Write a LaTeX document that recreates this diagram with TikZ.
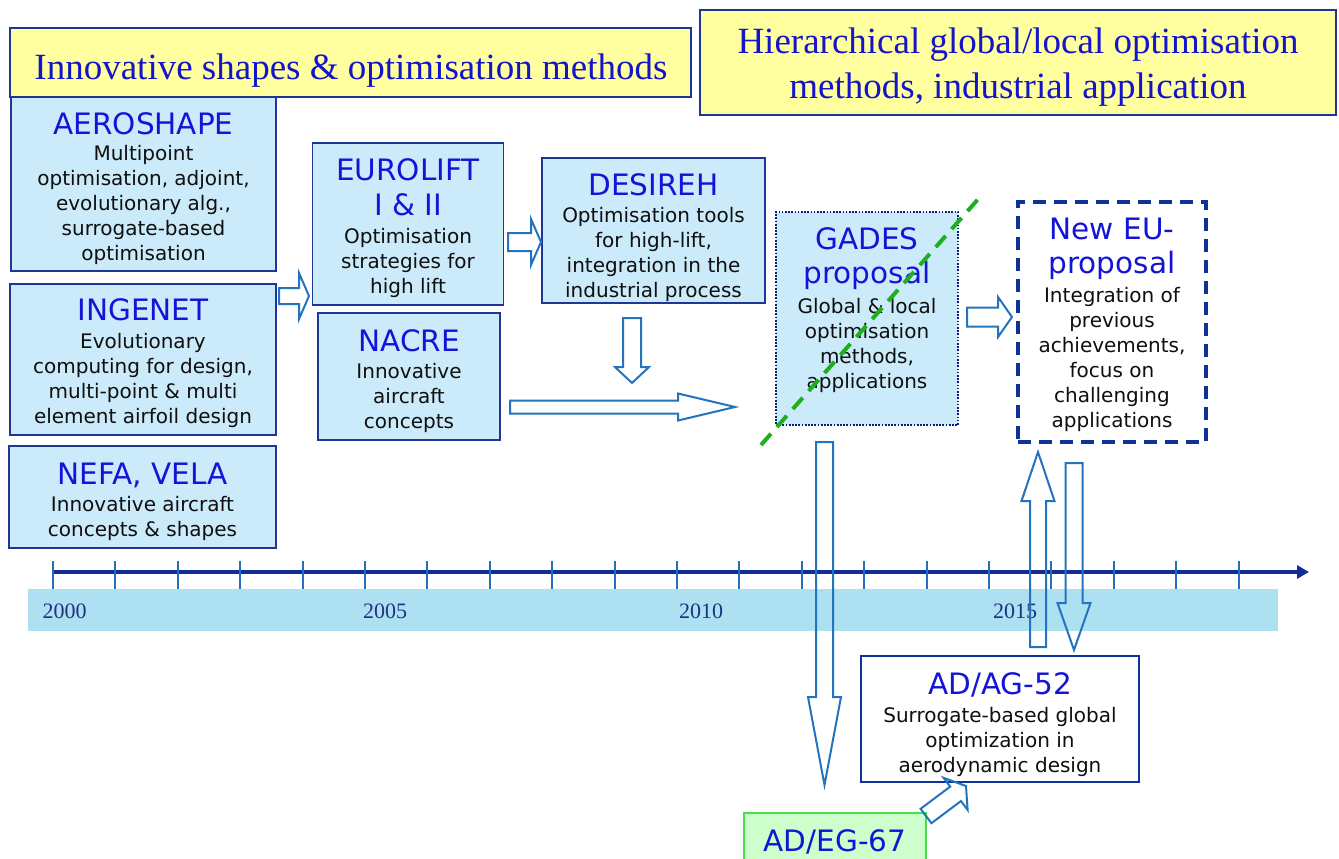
\documentclass[tikz,border=0pt]{standalone}
\usepackage{fontspec}
\setmainfont{DejaVu Sans}
\newfontfamily\serifT{Liberation Serif}
\usetikzlibrary{calc,arrows.meta}
\definecolor{boxfill}{RGB}{204,235,250}
\definecolor{boxline}{RGB}{30,55,150}
\definecolor{titlefill}{RGB}{255,255,160}
\definecolor{titletext}{RGB}{20,20,200}
\definecolor{headblue}{RGB}{20,20,215}
\definecolor{bodytext}{RGB}{15,15,15}
\definecolor{arrowblue}{RGB}{35,115,190}
\definecolor{axisblue}{RGB}{20,45,150}
\definecolor{tickblue}{RGB}{35,110,190}
\definecolor{bandcol}{RGB}{173,224,241}
\definecolor{yeartext}{RGB}{30,50,130}
\definecolor{dashgreen}{RGB}{30,175,30}
\definecolor{egfill}{RGB}{204,255,204}
\definecolor{egline}{RGB}{70,225,70}
\definecolor{euline}{RGB}{15,50,150}
\definecolor{dotline}{RGB}{10,30,120}
\newcommand\bodyf{\fontsize{20}{25}\selectfont}
\newcommand\hdf{\fontsize{29.5}{34}\selectfont\color{headblue}}
\newcommand\blockarr[5]{%
  \path let \p1=(#1), \p2=(#2) in \pgfextra{%
    \pgfmathsetmacro\baangA{atan2(\y2-\y1,\x2-\x1)}%
    \pgfmathsetmacro\balenA{veclen(\x2-\x1,\y2-\y1)}%
    \pgfmathsetmacro\babaseA{\balenA-#5}%
    \xdef\baang{\baangA}\xdef\balen{\balenA}\xdef\babase{\babaseA}%
    \xdef\bax{\x1}\xdef\bay{\y1}};
  \begin{scope}[shift={(\bax,\bay)},rotate=\baang]
    \draw[harrow] (0pt,-#3pt) -- (\babase pt,-#3pt) -- (\babase pt,-#4pt) -- (\balen pt,0pt) -- (\babase pt,#4pt) -- (\babase pt,#3pt) -- (0pt,#3pt) -- cycle;
  \end{scope}}
\tikzset{
  harrow/.style={draw=arrowblue, line width=2pt, line join=miter},
  pbox/.style={draw=boxline, fill=boxfill, line width=1.8pt, inner sep=0pt},
  ptxt/.style={align=center, inner sep=0pt, font=\bodyf, text=bodytext},
  titlebox/.style={draw=boxline, fill=titlefill, line width=2pt, inner sep=0pt},
  titletxt/.style={align=center, inner sep=0pt, text=titletext, font=\serifT\fontsize{37}{45}\selectfont},
  yearlbl/.style={inner sep=0pt, text=yeartext, font=\serifT\fontsize{22}{22}\selectfont},
  axisline/.style={draw=axisblue, line width=3.8pt, -{Triangle[length=12pt,width=13pt]}},
  tickline/.style={draw=tickblue, line width=2pt},
  greendash/.style={draw=dashgreen, line width=4pt, dash pattern=on 15pt off 9pt},
}
\begin{document}
\begin{tikzpicture}[x=1pt,y=-1pt]
\useasboundingbox[fill=white] (0,0) rectangle (1339,859);
% timeline band
\fill[bandcol] (28,589) rectangle (1278,631);
\coordinate (tlstart) at (52,572);
\coordinate (tlend) at (1309,572);
\draw[axisline] (tlstart) -- (tlend);
\foreach \i in {0,...,19} \draw[tickline] ({53+62.4*\i},561) -- ({53+62.4*\i},589);
\node[yearlbl] (y2000) at (64.5,611) {2000};
\node[yearlbl] (y2005) at (385,611) {2005};
\node[yearlbl] (y2010) at (701,611) {2010};
\node[yearlbl] (y2015) at (1015,611) {2015};
% titles
\node[titlebox, minimum width=681pt, minimum height=69pt] (t1) at (350.5,62.5) {};
\node[titletxt, anchor=north] (t1txt) at (351,54) {Innovative shapes \& optimisation methods};
\node[titlebox, minimum width=636pt, minimum height=105pt] (t2) at (1018,62.5) {};
\node[titletxt, anchor=north] (t2txt) at (1018,27.5) {Hierarchical global/local optimisation\\methods, industrial application};
% boxes
\node[pbox, minimum width=265pt, minimum height=174pt] (aero) at (143.5,184) {};
\node[ptxt, anchor=north] (aerot) at (143.5,112) {{\hdf AEROSHAPE}\\[1pt]Multipoint\\optimisation, adjoint,\\evolutionary alg.,\\surrogate-based\\optimisation};
\node[pbox, minimum width=266pt, minimum height=151pt] (ingenet) at (143,359.5) {};
\node[ptxt, anchor=north] (ingenett) at (143,298) {{\hdf INGENET}\\[3pt]Evolutionary\\computing for design,\\multi-point \& multi\\element airfoil design};
\node[pbox, minimum width=267pt, minimum height=102pt] (nefa) at (142.5,497) {};
\node[ptxt, anchor=north] (nefat) at (142.5,463) {{\hdf NEFA, VELA}\\[2pt]Innovative aircraft\\concepts \& shapes};
\node[pbox, minimum width=191pt, minimum height=162pt] (eurolift) at (408,224) {};
\node[ptxt, anchor=north] (eurolifts) at (408,158) {{\hdf EUROLIFT}\\[10pt]{\hdf I \& II}\\[3pt]Optimisation\\strategies for\\high lift};
\node[pbox, minimum width=182pt, minimum height=127pt] (nacre) at (409,376.5) {};
\node[ptxt, anchor=north] (nacret) at (409,329) {{\hdf NACRE}\\[2pt]Innovative\\aircraft\\concepts};
\node[pbox, minimum width=223pt, minimum height=145pt] (desireh) at (653.5,230.5) {};
\node[ptxt, anchor=north] (desireht) at (653.5,173) {{\hdf DESIREH}\\[2pt]Optimisation tools\\for high-lift,\\integration in the\\industrial process};
\node[pbox, draw=dotline, line width=2.2pt, dash pattern=on 1.7pt off 1.5pt, minimum width=182pt, minimum height=213pt] (gades) at (867,318.5) {};
\node[ptxt, anchor=north] (gadest) at (867,227) {{\hdf GADES}\\[9pt]{\hdf proposal}\\[5pt]Global \& local\\optimisation\\methods,\\applications};
\node[pbox, fill=white, draw=euline, line width=3.5pt, dash pattern=on 13pt off 8pt, minimum width=188pt, minimum height=240pt] (neweu) at (1112,322) {};
\node[ptxt, anchor=north] (neweut) at (1112,218) {{\hdf New EU-}\\[9pt]{\hdf proposal}\\[4pt]Integration of\\previous\\achievements,\\focus on\\challenging\\applications};
\node[pbox, fill=white, draw=euline, line width=2pt, minimum width=278pt, minimum height=126pt] (adag) at (1000,719) {};
\node[ptxt, anchor=north] (adagt) at (1000,672) {{\hdf AD/AG-52}\\[3pt]Surrogate-based global\\optimization in\\aerodynamic design};
\node[pbox, fill=egfill, draw=egline, line width=2pt, minimum width=182pt, minimum height=54pt] (adeg) at (835,840) {};
\node[ptxt, anchor=north] (adegt) at (835,829) {{\hdf AD/EG-67}};
% arrow end points
\coordinate (a1s) at (279,296); \coordinate (a1e) at (309,296);
\coordinate (a2s) at (508,242); \coordinate (a2e) at (541,242);
\coordinate (a3s) at (632,318); \coordinate (a3e) at (632,383);
\coordinate (a4s) at (510,407); \coordinate (a4e) at (735,407);
\coordinate (a5s) at (967,317); \coordinate (a5e) at (1012,317);
\coordinate (a6s) at (824.5,442); \coordinate (a6e) at (824.5,785);
\coordinate (a7s) at (1038,647); \coordinate (a7e) at (1038,452);
\coordinate (a8s) at (1074,463); \coordinate (a8e) at (1074,650);
\coordinate (a9s) at (926,816); \coordinate (a9e) at (966,786);
\blockarr{a1s}{a1e}{8}{23}{10}
\blockarr{a2s}{a2e}{9}{23}{10}
\blockarr{a3s}{a3e}{9}{17}{16}
\blockarr{a4s}{a4e}{6.5}{13.5}{57}
\blockarr{a5s}{a5e}{9.5}{20}{14}
\blockarr{a6s}{a6e}{8.5}{16.5}{88}
\blockarr{a7s}{a7e}{8}{16.5}{49}
\blockarr{a8s}{a8e}{8.5}{16.5}{47}
\blockarr{a9s}{a9e}{9}{20}{13}
% green dashed divider
\coordinate (gl1) at (761,445);
\coordinate (gl2) at (980,197);
\draw[greendash] (gl1) -- (gl2);
\end{tikzpicture}
\end{document}
